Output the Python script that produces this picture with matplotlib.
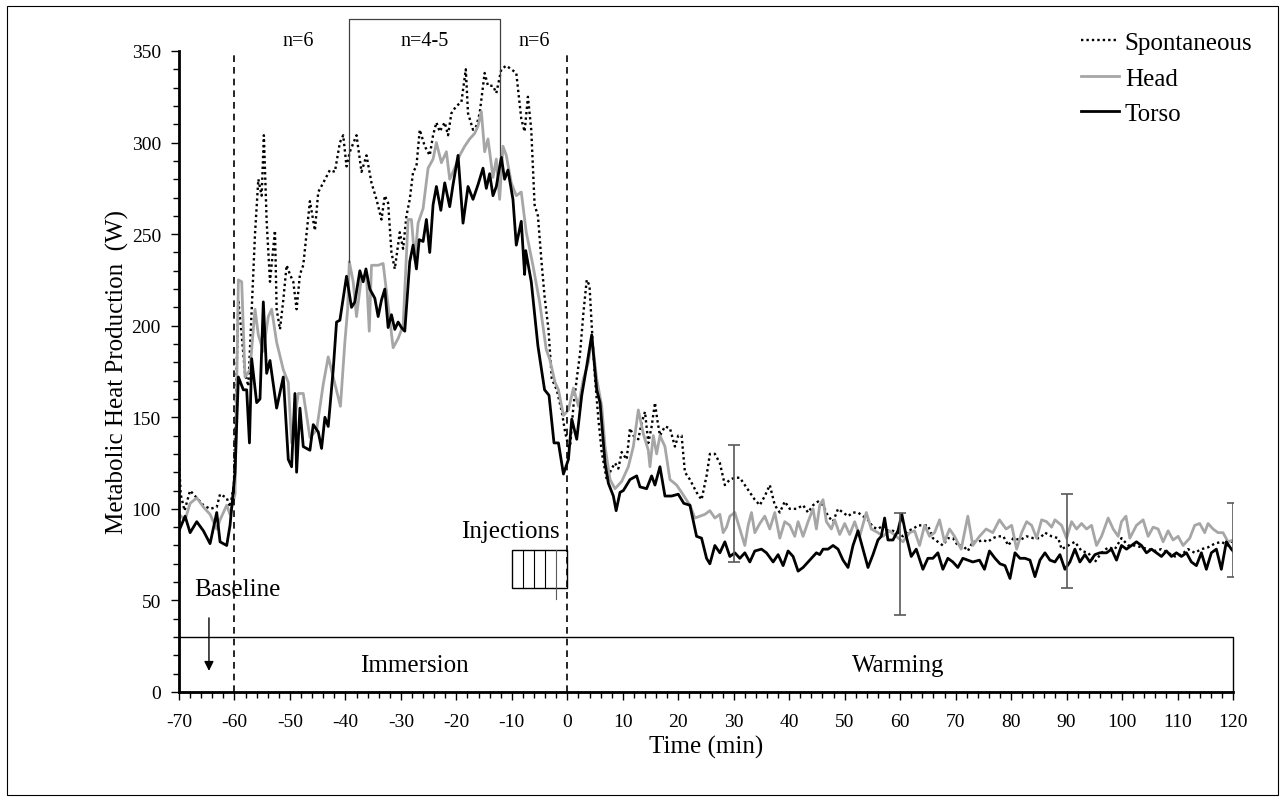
import matplotlib
matplotlib.use("Agg")
import matplotlib.pyplot as plt
from matplotlib.patches import Rectangle
from matplotlib.ticker import MultipleLocator

plt.rcParams['font.family'] = ['Liberation Serif', 'DejaVu Serif']
plt.rcParams['axes.unicode_minus'] = False

# metabolic heat production (W) against time (min) for the three warming groups
spont_t = [-70, -69.7, -69, -68, -66.8, -65.6, -64.4, -63.2, -62.6, -61.4,
           -60.8, -60.1, -59.3, -58.7, -58.1, -57.5, -56.9, -56.3, -55.7, -55.1,
           -54.7, -54.2, -53.6, -52.7, -52.4, -51.8, -51.2, -50.6, -50, -49.4,
           -48.8, -48.2, -47.6, -46.4, -45.5, -44.9, -44, -42.8, -41.9, -41,
           -40.4, -39.8, -39.2, -38, -37.1, -36.2, -35.3, -34.4, -33.5, -32.9,
           -32.3, -31.7, -31.1, -30.2, -29.6, -29, -28.4, -27.8, -27.2, -26.6,
           -25.7, -24.8, -24.2, -23.6, -23, -22.1, -21.5, -20.9, -20, -19.1,
           -18.3, -17.9, -17, -16.4, -15.8, -14.9, -14.3, -13.4, -12.8, -11.9,
           -11, -10.1, -9.2, -8.3, -7.7, -7.1, -6.5, -5.9, -5.3, -4.6,
           -4.1, -3.4, -2.8, -1.9, -1, -0.4, 0.2, 0.5, 1.1, 1.7,
           2.3, 2.9, 3.5, 4, 4.4, 5, 5.6, 6.2, 7.1, 8,
           8.6, 9.2, 9.8, 10.7, 11.3, 11.9, 12.8, 13.4, 14, 14.6,
           15.2, 15.8, 16.2, 16.7, 17.6, 18.5, 19.4, 20, 20.6, 21.2,
           22.1, 23.3, 24.2, 25.1, 25.7, 26.6, 27.5, 28.4, 29.3, 30.2,
           31.1, 32, 32.9, 33.8, 34.7, 35.6, 36.5, 37.4, 38.3, 39.2,
           40.1, 41.3, 42.5, 43.4, 44.3, 45.2, 46.1, 47, 47.9, 48.8,
           49.7, 50.6, 51.5, 52.4, 53.3, 54.2, 55.1, 56, 56.9, 57.8,
           58.7, 59.6, 60.5, 61.4, 62.3, 63.2, 64.1, 65, 65.9, 66.8,
           67.7, 68.6, 69.5, 70.4, 71.3, 72.2, 73.1, 74, 74.9, 75.8,
           76.7, 77.6, 78.6, 79.5, 80.4, 81.6, 82.8, 84, 85.2, 86.1,
           87.3, 88.5, 89.1, 90.3, 91.5, 92.7, 93.9, 95.1, 96.3, 97.5,
           98.7, 99.9, 101.1, 102.3, 103.5, 104.7, 105.9, 107.1, 108.3, 109.5,
           110.7, 111.9, 113.1, 114.3, 115.5, 116.7, 117.9, 119.1, 120]
spont_w = [128, 108, 99, 110, 106, 102, 100, 101, 108, 106,
           101, 113, 214, 195, 174, 167, 209, 250, 280, 271,
           304, 257, 224, 252, 209, 198, 214, 233, 228, 224,
           209, 228, 233, 268, 252, 273, 278, 285, 284, 300,
           304, 287, 295, 304, 284, 293, 278, 269, 258, 271,
           267, 240, 231, 251, 242, 260, 269, 284, 287, 307,
           298, 293, 304, 311, 306, 311, 304, 316, 320, 322,
           340, 316, 307, 309, 316, 338, 331, 331, 327, 340,
           342, 340, 338, 313, 306, 325, 307, 266, 260, 233,
           216, 198, 171, 165, 153, 142, 134, 134, 156, 171,
           185, 207, 225, 222, 200, 171, 149, 131, 116, 122,
           125, 122, 131, 127, 144, 140, 138, 147, 153, 136,
           145, 158, 149, 140, 145, 144, 134, 140, 140, 120,
           116, 109, 105, 118, 130, 130, 125, 113, 116, 117,
           117, 113, 109, 105, 102, 107, 113, 102, 98, 104,
           100, 100, 102, 98, 102, 104, 102, 96, 93, 100,
           98, 96, 98, 98, 96, 94, 90, 89, 91, 88,
           88, 87, 85, 88, 89, 91, 91, 91, 84, 82,
           80, 84, 84, 80, 80, 77, 82, 82, 83, 82,
           84, 85, 85, 80, 84, 83, 85, 84, 84, 87,
           85, 84, 78, 80, 82, 77, 76, 71, 76, 79,
           78, 84, 80, 80, 79, 78, 77, 78, 76, 74,
           75, 78, 76, 78, 79, 81, 82, 80, 83]

head_t = [-70, -68.9, -68, -66.8, -65.6, -64.4, -63.2, -62.6, -61.4, -60.8,
          -59.9, -59.3, -58.7, -58.1, -57.2, -56.3, -55.7, -54.8, -53.9, -53.3,
          -52.4, -51.2, -50.3, -49.7, -48.5, -47.6, -46.4, -45.2, -44, -43.1,
          -42.2, -40.9, -40.1, -39.6, -39.3, -38.6, -38, -37.1, -36.2, -35.7,
          -35.3, -34.1, -33.2, -32.3, -31.4, -30.5, -29.6, -28.7, -28.1, -27.5,
          -26.9, -26, -25.1, -24.2, -23.6, -22.7, -21.8, -21.2, -20.3, -19.4,
          -18.5, -17.6, -16.7, -16.1, -15.5, -14.9, -14.3, -13.4, -12.8, -12.2,
          -11.6, -11, -10.1, -9.2, -8.3, -7.4, -6.2, -5, -3.8, -3.2,
          -2.2, -1.6, -0.7, 0.2, 1.1, 2, 2.9, 3.8, 4.4, 5.3,
          6.2, 6.8, 7.7, 8.6, 9.8, 11, 11.9, 12.8, 13.7, 14.6,
          14.9, 15.5, 16.1, 16.7, 17.6, 18.5, 19.7, 20.6, 22.1, 23,
          23.9, 24.8, 25.7, 26.6, 27.5, 28.1, 28.7, 29.3, 30.2, 31.1,
          32, 32.6, 33.2, 33.8, 34.7, 35.6, 36.5, 37.4, 38.3, 39.2,
          40.1, 41, 41.6, 42.5, 43.4, 44.3, 44.9, 45.5, 46.1, 46.7,
          47.6, 48.2, 49.1, 50, 50.9, 51.8, 52.7, 53.9, 54.8, 56,
          56.9, 58.1, 59.3, 60.5, 61.7, 62.6, 63.5, 64.4, 65.3, 66.2,
          67.1, 68, 68.9, 69.8, 71, 72.2, 73.1, 74.3, 75.5, 76.7,
          77.9, 79.1, 80.1, 81, 81.9, 82.8, 83.7, 84.6, 85.5, 86.4,
          87.3, 87.9, 89.1, 90, 90.9, 91.8, 92.7, 93.6, 94.5, 95.4,
          96.3, 97.5, 98.4, 99.3, 99.9, 100.7, 101.4, 102.6, 103.8, 104.7,
          105.6, 106.5, 107.4, 108.3, 109.2, 110.1, 111, 112.2, 113.1, 114,
          114.9, 115.5, 116.4, 117.3, 118.2, 119.1, 120]
head_w = [97, 94, 103, 106, 101, 97, 89, 94, 102, 97,
          108, 225, 224, 172, 176, 209, 195, 186, 205, 209,
          191, 176, 169, 136, 163, 163, 139, 143, 168, 183,
          172, 156, 191, 209, 235, 224, 205, 227, 227, 197,
          233, 233, 234, 211, 188, 193, 200, 258, 258, 236,
          256, 264, 286, 291, 300, 289, 295, 280, 286, 293,
          298, 302, 305, 309, 317, 295, 302, 281, 291, 269,
          298, 293, 278, 271, 273, 251, 233, 213, 187, 182,
          169, 165, 151, 154, 166, 156, 171, 180, 194, 171,
          156, 134, 116, 111, 115, 123, 134, 154, 141, 132,
          123, 140, 130, 140, 134, 116, 113, 109, 102, 95,
          96, 97, 99, 95, 97, 87, 90, 96, 98, 89,
          80, 91, 98, 87, 92, 96, 89, 98, 84, 93,
          91, 85, 93, 85, 93, 100, 89, 102, 105, 93,
          89, 94, 86, 92, 86, 93, 85, 98, 89, 87,
          85, 88, 85, 82, 87, 88, 80, 91, 85, 87,
          94, 82, 89, 85, 78, 96, 80, 85, 89, 87,
          94, 89, 91, 78, 87, 93, 91, 84, 94, 93,
          90, 94, 91, 84, 93, 89, 92, 89, 91, 80,
          85, 95, 89, 85, 93, 96, 84, 91, 94, 85,
          90, 89, 82, 88, 83, 85, 80, 84, 91, 92,
          87, 92, 89, 87, 87, 82, 83]

torso_t = [-70, -68.9, -68, -66.8, -65.6, -64.4, -63.2, -62.6, -61.4, -60.8,
           -59.9, -59.3, -58.4, -57.8, -57.3, -56.9, -56, -55.4, -54.8, -54.2,
           -53.6, -52.4, -51.2, -50.3, -49.7, -49.1, -48.8, -48.2, -47.6, -46.4,
           -45.8, -44.9, -44.3, -43.7, -43.1, -42.2, -41.6, -41, -39.8, -38.9,
           -38.3, -37.4, -36.8, -36.3, -35.6, -34.7, -34.1, -33.5, -32.9, -32.3,
           -31.7, -31.1, -30.5, -29.9, -29.3, -28.4, -27.8, -27.2, -26.7, -26,
           -25.4, -24.8, -24.2, -23.6, -22.8, -22.1, -21.2, -20.6, -19.7, -18.8,
           -17.9, -17, -16.1, -15.2, -14.6, -14, -13.4, -12.8, -11.9, -11.3,
           -10.7, -9.8, -9.2, -8.3, -7.7, -7.5, -6.5, -5.3, -4.1, -3.3,
           -2.4, -1.6, -0.7, 0.2, 0.8, 1.7, 2.6, 3.5, 4.4, 5.3,
           5.9, 6.8, 7.4, 8.3, 8.8, 9.5, 10.1, 11.3, 12.5, 13.1,
           14.3, 15.2, 15.8, 16.7, 17.6, 18.8, 20, 21, 22.1, 23.3,
           24.2, 25.1, 25.7, 26.6, 27.5, 28.4, 29.3, 30.2, 31.1, 32,
           32.9, 33.8, 35, 35.9, 37.1, 38, 38.9, 39.8, 40.7, 41.6,
           42.5, 43.4, 44.3, 44.9, 45.5, 46.1, 47, 47.9, 48.8, 49.7,
           50.6, 51.5, 52.4, 53.3, 54.2, 55.1, 56, 56.6, 57.2, 57.8,
           58.7, 59.6, 60.3, 61.1, 62, 62.9, 64.1, 65, 65.9, 66.8,
           67.7, 68.6, 69.5, 70.4, 71.3, 72.2, 73.1, 74.3, 75.2, 76.1,
           77.1, 78, 78.9, 79.8, 80.7, 81.6, 82.5, 83.4, 84.3, 85.2,
           86.1, 87, 87.9, 88.8, 89.7, 90.6, 91.5, 92.4, 93.3, 94.2,
           95.1, 96, 97.2, 98.1, 99, 99.9, 100.8, 101.7, 102.6, 103.5,
           104.4, 105.3, 106.2, 107.1, 108, 108.9, 109.8, 110.7, 111.6, 112.5,
           113.4, 114.3, 115.2, 116.1, 117, 117.9, 118.8, 119.7, 120]
torso_w = [88, 96, 87, 93, 88, 81, 98, 82, 80, 91,
           120, 172, 165, 165, 136, 182, 158, 160, 213, 174,
           181, 155, 172, 127, 123, 163, 120, 155, 134, 132,
           146, 142, 133, 150, 145, 176, 202, 203, 227, 210,
           213, 230, 224, 231, 220, 215, 205, 214, 220, 199,
           206, 198, 202, 199, 197, 235, 244, 231, 247, 246,
           258, 240, 266, 276, 263, 278, 265, 277, 293, 256,
           276, 269, 277, 286, 275, 283, 271, 276, 292, 280,
           285, 269, 244, 257, 228, 241, 224, 189, 165, 162,
           136, 136, 119, 127, 149, 138, 162, 178, 195, 165,
           158, 125, 114, 107, 99, 109, 110, 116, 118, 112,
           111, 118, 113, 123, 107, 107, 108, 103, 102, 85,
           84, 73, 70, 80, 76, 82, 74, 76, 73, 76,
           71, 77, 78, 76, 71, 75, 69, 77, 74, 66,
           68, 71, 74, 76, 75, 78, 78, 80, 78, 72,
           68, 80, 88, 78, 68, 75, 83, 85, 95, 83,
           83, 88, 97, 85, 74, 78, 67, 73, 73, 76,
           67, 73, 71, 68, 73, 72, 71, 72, 67, 77,
           73, 70, 69, 62, 76, 73, 73, 72, 63, 72,
           76, 72, 71, 75, 67, 71, 78, 71, 75, 71,
           75, 76, 76, 78, 72, 80, 78, 80, 82, 80,
           76, 78, 76, 74, 77, 74, 76, 74, 76, 71,
           69, 76, 67, 76, 78, 67, 82, 78, 77]

# error bar ranges at selected time points
err_t = [30, 60, 90, 120]
err_lo = [71, 42, 57, 63]
err_hi = [135, 98, 108, 103]

fig = plt.figure(figsize=(12.86, 8.03), dpi=100)
ax = fig.add_axes([179 / 1286, 1 - 693 / 803, (1233 - 179) / 1286, (693 - 52) / 803])

# outer chart border
fig.patches.append(Rectangle((7 / 1286, 7 / 803), 1271 / 1286, 789 / 803,
                             transform=fig.transFigure, fill=False,
                             edgecolor='black', linewidth=0.8))

ax.plot(spont_t, spont_w, color='black', linestyle=(0, (1, 1.3)), linewidth=1.7,
        label='Spontaneous')
ax.plot(head_t, head_w, color='#a6a6a6', linewidth=2.0, label='Head')
ax.plot(torso_t, torso_w, color='black', linewidth=2.0, label='Torso')

err_mid = [(lo + hi) / 2 for lo, hi in zip(err_lo, err_hi)]
ax.errorbar(err_t, err_mid,
            yerr=[[m - lo for m, lo in zip(err_mid, err_lo)],
                  [hi - m for m, hi in zip(err_mid, err_hi)]],
            fmt='none', ecolor='#595959', elinewidth=1.2, capsize=4, capthick=1.2)

# phase markers
for xv in (-60, 0):
    ax.plot([xv, xv], [0, 350], color='black', linestyle=(0, (4, 3)), linewidth=1.2)
ax.add_patch(Rectangle((-70, 0), 190, 30, fill=False, edgecolor='black',
                       linewidth=1.0, clip_on=False))
ax.text(-27.6, 15, 'Immersion', ha='center', va='center', fontsize=18)
ax.text(59.6, 15, 'Warming', ha='center', va='center', fontsize=18)

ax.text(-59.5, 56, 'Baseline', ha='center', va='center', fontsize=18)
ax.annotate('', xy=(-64.6, 10), xytext=(-64.6, 42),
            arrowprops=dict(arrowstyle='-|>', color='black', lw=1.0, mutation_scale=14))

# injection block
ax.add_patch(Rectangle((-10, 57), 10, 20.5, fill=False, edgecolor='black', linewidth=1.0))
for xv in (-8, -6, -4):
    ax.plot([xv, xv], [57, 77.5], color='black', linewidth=0.8)
ax.plot([-2, -2], [51, 77.5], color='#595959', linewidth=0.8)
ax.text(-10.3, 88, 'Injections', ha='center', va='center', fontsize=18)

# sample size bracket
ax.plot([-39.4, -39.4, -12.2, -12.2], [235, 367.5, 367.5, 293], color='#404040',
        linewidth=0.9, clip_on=False)
ax.text(-48.5, 355.5, 'n=6', ha='center', va='center', fontsize=14.5)
ax.text(-25.7, 355.5, 'n=4-5', ha='center', va='center', fontsize=14.5)
ax.text(-6.0, 355.5, 'n=6', ha='center', va='center', fontsize=14.5)

ax.set_xlim(-70, 120)
ax.set_ylim(0, 350)
ax.xaxis.set_major_locator(MultipleLocator(10))
ax.xaxis.set_minor_locator(MultipleLocator(2))
ax.yaxis.set_major_locator(MultipleLocator(50))
ax.yaxis.set_minor_locator(MultipleLocator(10))
ax.tick_params(axis='both', which='major', direction='out', length=6, width=1.0,
               labelsize=14)
ax.tick_params(axis='x', which='major', pad=9)
ax.tick_params(axis='y', which='major', pad=7)
ax.tick_params(axis='both', which='minor', direction='out', length=4, width=1.0)
ax.spines['top'].set_visible(False)
ax.spines['right'].set_visible(False)
ax.spines['left'].set_linewidth(2.0)
ax.spines['bottom'].set_linewidth(2.0)

ax.set_xlabel('Time (min)', fontsize=18, labelpad=4)
ax.set_ylabel('Metabolic Heat Production  (W)', fontsize=18, labelpad=2)

ax.legend(loc='upper right', bbox_to_anchor=(1275 / 1286, 1 - 10 / 803),
          bbox_transform=fig.transFigure, frameon=False, fontsize=18,
          handlelength=1.5, handletextpad=0.25, labelspacing=0.52)

fig.savefig('out.png', dpi=100)
